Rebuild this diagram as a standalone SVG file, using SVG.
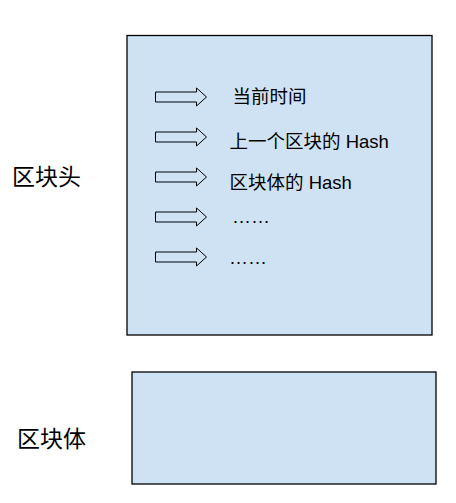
<svg xmlns="http://www.w3.org/2000/svg" width="456" height="503" viewBox="0 0 456 503">
<style>
.box{fill:#cfe2f3;stroke:#000;stroke-width:1.3}
.arr{fill:none;stroke:#000;stroke-width:1}
.t{font-family:"Liberation Sans","Noto Sans CJK SC",sans-serif;font-size:18.5px;fill:#000}
.dots{font-size:19px}
.lbl{font-family:"Noto Sans CJK SC",sans-serif;font-size:23px;fill:#000}
</style>
<defs>
<polygon id="arrow" points="0,-5 41,-5 41,-9 51,0 41,9 41,5 0,5"/>
</defs>
<rect width="456" height="503" fill="#fff"/>
<g id="header">
<rect class="box" x="127" y="35.5" width="305" height="299.5"/>
<text class="t" x="232.5" y="103">当前时间</text>
<text class="t" x="229.5" y="148">上一个区块的 Hash</text>
<text class="t" x="229.5" y="189">区块体的 Hash</text>
<text class="t dots" x="232" y="223">……</text>
<text class="t dots" x="229" y="264">……</text>
</g>
<g id="body">
<rect class="box" x="132" y="372" width="304" height="112"/>
</g>
<g id="labels">
<text class="lbl" x="12" y="185">区块头</text>
<text class="lbl" x="17" y="447">区块体</text>
</g>
<g id="connectors">
<use href="#arrow" class="arr" x="155.5" y="97"/>
<use href="#arrow" class="arr" x="155.5" y="137"/>
<use href="#arrow" class="arr" x="155.5" y="177"/>
<use href="#arrow" class="arr" x="155.5" y="217"/>
<use href="#arrow" class="arr" x="155.5" y="257"/>
</g>
</svg>
